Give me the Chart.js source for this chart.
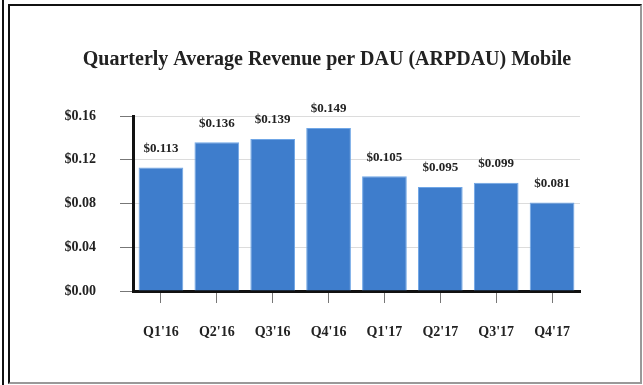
<!DOCTYPE html>
<html>
<head>
<meta charset="utf-8">
<script src="https://cdn.jsdelivr.net/npm/chart.js@4.4.1/dist/chart.umd.min.js"></script>
<style>
  body { margin: 0; background: #fff; }
  #page { position: relative; width: 643px; height: 385px; overflow: hidden; }
  /* double rule on the left, box frame around the chart */
  #rule { position: absolute; left: 2px; top: 0; width: 2px; height: 385px; background: #111; }
  #frame {
    position: absolute; left: 8px; top: 4px; width: 630px; height: 376px;
    border-left: 2px solid #111; border-top: 2px solid #111;
    border-right: 2px solid #999; border-bottom: 2px solid #999;
  }
  #chart { position: absolute; left: 0; top: 0; }
</style>
</head>
<body>
<div id="page">
  <div id="rule"></div>
  <div id="frame"></div>
  <canvas id="chart" width="643" height="385"></canvas>
</div>
<script>
const quarters = ["Q1'16", "Q2'16", "Q3'16", "Q4'16", "Q1'17", "Q2'17", "Q3'17", "Q4'17"];
const arpdau = [0.113, 0.136, 0.139, 0.149, 0.105, 0.095, 0.099, 0.081];
const yTicks = [0, 0.04, 0.08, 0.12, 0.16];
const chartTitle = "Quarterly Average Revenue per DAU (ARPDAU) Mobile";

const serif = "'Liberation Serif', 'Times New Roman', serif";

// title sits over the middle of the framed box, not the plot
const titleText = {
  id: "titleText",
  afterDraw(chart) {
    const ctx = chart.ctx;
    ctx.save();
    ctx.font = "bold 20px " + serif;
    ctx.fillStyle = "#222";
    ctx.textAlign = "center";
    ctx.textBaseline = "middle";
    ctx.fillText(chartTitle, 327, 60);
    ctx.restore();
  },
};

// dollar value written above each bar
const valueLabels = {
  id: "valueLabels",
  afterDatasetsDraw(chart) {
    const ctx = chart.ctx;
    const meta = chart.getDatasetMeta(0);
    ctx.save();
    ctx.font = "bold 13px " + serif;
    ctx.fillStyle = "#222";
    ctx.textAlign = "center";
    ctx.textBaseline = "middle";
    meta.data.forEach((bar, i) => {
      ctx.fillText("$" + arpdau[i].toFixed(3), bar.x, bar.y - 19);
    });
    ctx.restore();
  },
};

new Chart(document.getElementById("chart"), {
  type: "bar",
  data: {
    labels: quarters,
    datasets: [
      {
        data: arpdau,
        backgroundColor: "#3e7dcc",
        borderColor: "#6fa6e6",
        borderWidth: 1,
        barPercentage: 0.8,
        categoryPercentage: 1,
      },
    ],
  },
  options: {
    responsive: false,
    animation: false,
    layout: { padding: { top: 116, left: 40, right: 63, bottom: 10 } },
    plugins: {
      legend: { display: false },
      tooltip: { enabled: false },
    },
    scales: {
      x: {
        grid: {
          offset: false,
          drawOnChartArea: false,
          tickLength: 12,
          color: "#777",
        },
        border: { color: "#111", width: 3 },
        ticks: {
          color: "#222",
          padding: 21,
          font: { family: serif, size: 14, weight: "bold" },
        },
        afterFit(scale) {
          scale.height = 84;
        },
      },
      y: {
        min: 0,
        max: 0.16,
        afterBuildTicks(scale) {
          scale.ticks = yTicks.map((v) => ({ value: v }));
        },
        grid: { color: "#dcdcdc", tickColor: "#777", tickLength: 13 },
        border: { color: "#111", width: 3 },
        ticks: {
          color: "#222",
          padding: 24,
          font: { family: serif, size: 14, weight: "bold" },
          callback: (v) => "$" + Number(v).toFixed(2),
        },
        afterFit(scale) {
          scale.width = 93;
        },
      },
    },
  },
  plugins: [valueLabels, titleText],
});
</script>
</body>
</html>
